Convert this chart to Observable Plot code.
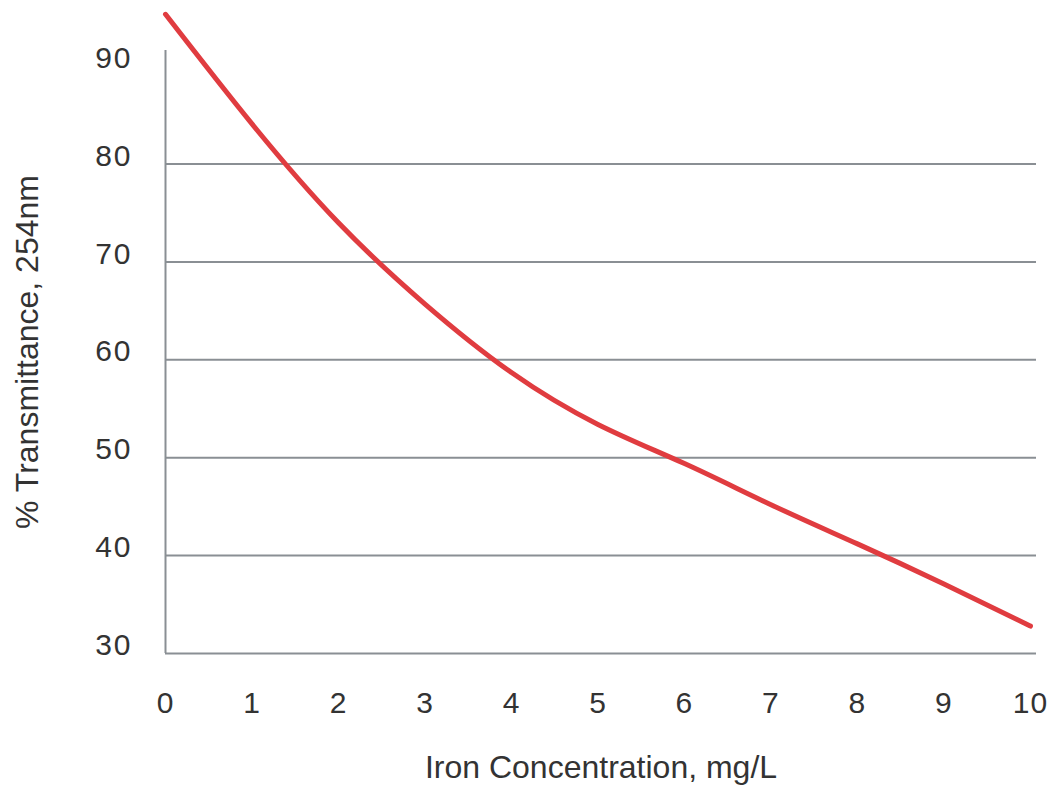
<!DOCTYPE html>
<html>
<head>
<meta charset="utf-8">
<script src="https://cdn.jsdelivr.net/npm/d3@7"></script>
<script src="https://cdn.jsdelivr.net/npm/@observablehq/plot@0.6"></script>
<style>
  html, body { margin: 0; padding: 0; background: #fff; }
  #chart svg { display: block; }
  #chart svg g[aria-label='y-axis tick label'] text { letter-spacing: 2px; }
  #chart svg g[aria-label='x-axis tick label'] text { letter-spacing: 1px; }
</style>
</head>
<body>
<div id="chart"></div>
<script>
// Iron concentration (mg/L) and % transmittance at 254 nm
const iron = [0, 1, 2, 3, 4, 5, 6, 7, 8, 9, 10];
const transmittance = [95.3, 84.1, 74.0, 65.7, 58.7, 53.4, 49.4, 45.2, 41.2, 37.1, 32.8];
const xTicks = [0, 1, 2, 3, 4, 5, 6, 7, 8, 9, 10];
const yTicks = [30, 40, 50, 60, 70, 80, 90];
const gridValues = [30, 40, 50, 60, 70, 80];

const data = iron.map((x, i) => ({x, y: transmittance[i]}));

const chart = Plot.plot({
  width: 1057,
  height: 786,
  marginLeft: 165,
  marginRight: 21,
  marginTop: 50,
  marginBottom: 133,
  style: {fontFamily: "'Liberation Sans', Arial, sans-serif", color: "#333", background: "#fff"},
  x: {domain: [0, 10.07]},
  y: {domain: [30, 91.6]},
  marks: [
    Plot.gridY(gridValues, {stroke: "#8a8f94", strokeOpacity: 1, strokeWidth: 2}),
    Plot.ruleX([0], {stroke: "#8a8f94", strokeWidth: 2}),
    Plot.axisX(xTicks, {
      tickSize: 0, tickPadding: 38, fontSize: 30, fill: "#333",
      label: "Iron Concentration, mg/L", labelAnchor: "center", labelArrow: "none", labelOffset: 124
    }),
    Plot.axisY(yTicks, {
      tickSize: 0, tickPadding: 33, fontSize: 30, fill: "#333", dy: -8,
      label: "% Transmittance, 254nm", labelAnchor: "center", labelArrow: "none", labelOffset: 150
    }),
    Plot.line(data, {x: "x", y: "y", stroke: "#e03c40", strokeWidth: 5, curve: "natural"})
  ]
});

document.getElementById("chart").appendChild(chart);
chart.querySelectorAll("g[aria-label='x-axis label'] text, g[aria-label='y-axis label'] text").forEach(t => t.setAttribute("font-size", 32));
</script>
</body>
</html>
